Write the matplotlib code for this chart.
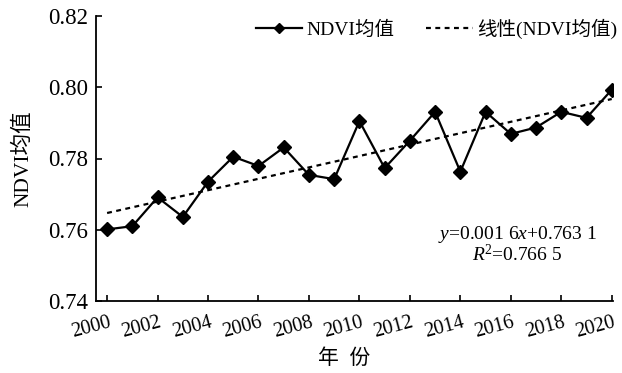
import matplotlib
matplotlib.use("Agg")
import matplotlib.pyplot as plt
import matplotlib.transforms as mtransforms
import numpy as np

years = list(range(2000, 2021))
ndvi = [0.7601, 0.7610, 0.7691, 0.7636, 0.7735, 0.7805, 0.7779, 0.7831, 0.7754,
        0.7742, 0.7905, 0.7773, 0.7850, 0.7931, 0.7763, 0.7931, 0.7869, 0.7887,
        0.7931, 0.7914, 0.7993]
slope = 0.0016
intercept = 0.7631
xticks = list(range(2000, 2021, 2))
yticks = [0.74, 0.76, 0.78, 0.80, 0.82]

fam = ['Liberation Serif', 'Noto Sans CJK SC']
plt.rcParams['font.family'] = fam
plt.rcParams['mathtext.fontset'] = 'custom'
plt.rcParams['mathtext.rm'] = 'Liberation Serif'
plt.rcParams['mathtext.it'] = 'Liberation Serif:italic'

fig = plt.figure(figsize=(6.22, 3.73), dpi=100)
ax = fig.add_axes([96/622, 1-301/373, (613-96)/622, (301-16)/373])

idx = np.arange(1, len(years) + 1)
trend = slope * idx + intercept

ax.plot(years, ndvi, color='black', lw=1.6, marker='D', markersize=7, label='NDVI均值')
ax.plot(years, trend, color='black', lw=1.6, linestyle=(0, (2.2, 2.0)), label='线性(NDVI均值)')

ax.set_xlim(1999.56, 2020.05)
ax.set_ylim(0.74, 0.82)
ax.set_xticks(xticks)
ax.set_yticks(yticks)
ax.set_yticklabels([f'{v:.2f}' for v in yticks], fontsize=16.5)
ax.set_xticklabels([str(v) for v in xticks], fontsize=14.5, rotation=15, ha='right')
ax.tick_params(direction='in', length=4.5, width=1.2)
ax.tick_params(axis='y', pad=6)
ax.tick_params(axis='x', pad=9)
offset = mtransforms.ScaledTranslation(6/100, 0, fig.dpi_scale_trans)
for lab in ax.get_xticklabels():
    lab.set_transform(lab.get_transform() + offset)
for s in ['top', 'right']:
    ax.spines[s].set_visible(False)
for s in ['left', 'bottom']:
    ax.spines[s].set_linewidth(1.3)

ax.set_ylabel('NDVI均值', fontsize=15.5, labelpad=10)
ax.set_xlabel('年  份', fontsize=15, labelpad=3)
ax.xaxis.set_label_coords(0.48, -0.17)

leg = ax.legend(loc='upper right', ncol=2, frameon=False, fontsize=14,
                bbox_to_anchor=(1.008, 0.99), borderpad=0, borderaxespad=0,
                handlelength=2.4, columnspacing=1.65, handletextpad=0.2,
                markerscale=0.75)

ax.text(0.815, 0.235, '$y$=0.001 6$x$+0.763 1', transform=ax.transAxes,
        ha='center', va='center', fontsize=14)
ax.text(0.815, 0.163, '$R$$^2$=0.766 5', transform=ax.transAxes,
        ha='center', va='center', fontsize=14)

fig.savefig('out.png', dpi=100)
